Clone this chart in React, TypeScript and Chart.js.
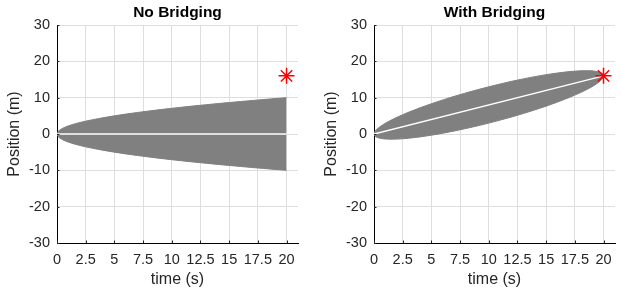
import React, { useEffect, useRef } from "react";
import { Chart, registerables } from "chart.js";

Chart.register(...registerables);

// ---- data ----
const xTickValues = [0, 2.5, 5, 7.5, 10, 12.5, 15, 17.5, 20];
const yTickValues = [-30, -20, -10, 0, 10, 20, 30];

// No Bridging: envelope
const tNo = [0, 0.1, 0.25, 0.5, 0.75, 1, 1.5, 2, 2.5, 3, 4, 5, 6, 7, 8, 9, 10, 11, 12, 13, 14, 15, 16, 17, 18, 19, 20];
const upperNo = [0, 0.71, 1.12, 1.58, 1.94, 2.24, 2.74, 3.16, 3.54, 3.87, 4.47, 5.0, 5.48, 5.92, 6.32, 6.71, 7.07, 7.42, 7.75, 8.06, 8.37, 8.66, 8.94, 9.22, 9.49, 9.75, 10.0];
const lowerNo = [0, -0.71, -1.12, -1.58, -1.94, -2.24, -2.74, -3.16, -3.54, -3.87, -4.47, -5.0, -5.48, -5.92, -6.32, -6.71, -7.07, -7.42, -7.75, -8.06, -8.37, -8.66, -8.94, -9.22, -9.49, -9.75, -10.0];
const meanNoT = [0, 20];
const meanNo = [0, 0];

// With Bridging: envelope
const tBr = [0, 0.1, 0.25, 0.5, 0.75, 1, 1.5, 2, 2.5, 3, 4, 5, 6, 7, 8, 9, 10, 11, 12, 13, 14, 15, 16, 17, 18, 18.5, 19, 19.25, 19.5, 19.75, 19.9, 20];
const upperBr = [0, 0.79, 1.31, 1.96, 2.5, 2.98, 3.83, 4.6, 5.31, 5.97, 7.2, 8.33, 9.38, 10.37, 11.3, 12.17, 13.0, 13.77, 14.5, 15.17, 15.78, 16.33, 16.8, 17.17, 17.4, 17.43, 17.38, 17.3, 17.16, 16.91, 16.63, 16.0];
const lowerBr = [0, -0.63, -0.91, -1.16, -1.3, -1.38, -1.43, -1.4, -1.31, -1.17, -0.8, -0.33, 0.22, 0.83, 1.5, 2.23, 3.0, 3.83, 4.7, 5.63, 6.62, 7.67, 8.8, 10.03, 11.4, 12.17, 13.02, 13.5, 14.04, 14.69, 15.21, 16.0];
const meanBrT = [0, 20];
const meanBr = [0, 16];

// Target marker
const targetT = [20];
const targetY = [16];

const titles = ["No Bridging", "With Bridging"];

const FONT = "'Liberation Sans', Arial, Helvetica, sans-serif";

const pts = (xs: number[], ys: number[]) => xs.map((x, i) => ({ x, y: ys[i] }));

// small inside tick marks on the left and bottom axes (MATLAB style)
const insideTicks = {
  id: "insideTicks",
  afterDatasetsDraw(chart: any) {
    const { ctx, chartArea, scales } = chart;
    const len = 2.5;
    ctx.save();
    ctx.strokeStyle = "#262626";
    ctx.lineWidth = 1;
    ctx.beginPath();
    for (const v of xTickValues) {
      const px = Math.round(scales.x.getPixelForValue(v)) + 0.5;
      ctx.moveTo(px, chartArea.bottom);
      ctx.lineTo(px, chartArea.bottom - len);
    }
    for (const v of yTickValues) {
      const py = Math.round(scales.y.getPixelForValue(v)) + 0.5;
      ctx.moveTo(chartArea.left, py);
      ctx.lineTo(chartArea.left + len, py);
    }
    ctx.stroke();
    ctx.restore();
  },
};

function zeroPad(s: any) {
  s.paddingLeft = 0;
  s.paddingRight = 0;
  s.paddingTop = 0;
  s.paddingBottom = 0;
}

function makeConfig(title: string, t: number[], up: number[], lo: number[], mt: number[], m: number[]): any {
  return {
    type: "line",
    data: {
      datasets: [
        {
          data: pts(targetT, targetY),
          showLine: false,
          pointStyle: "star",
          pointRadius: 8,
          pointBorderColor: "#ff0000",
          pointBackgroundColor: "#ff0000",
          pointBorderWidth: 1.5,
          clip: false,
          order: 0,
        },
        {
          data: pts(mt, m),
          borderColor: "#ffffff",
          borderWidth: 1.5,
          pointRadius: 0,
          fill: false,
          order: 1,
        },
        {
          data: pts(t, up),
          borderColor: "#808080",
          borderWidth: 1,
          backgroundColor: "#808080",
          pointRadius: 0,
          fill: 3,
          tension: 0,
          order: 2,
        },
        {
          data: pts(t, lo),
          borderColor: "#808080",
          borderWidth: 1,
          backgroundColor: "#808080",
          pointRadius: 0,
          fill: false,
          tension: 0,
          order: 3,
        },
      ],
    },
    plugins: [insideTicks],
    options: {
      animation: false,
      responsive: false,
      maintainAspectRatio: false,
      layout: { autoPadding: false, padding: { left: 0, right: 6, top: 0, bottom: 0 } },
      plugins: {
        legend: { display: false },
        tooltip: { enabled: false },
        title: {
          display: true,
          text: title,
          fullSize: false,
          color: "#000000",
          font: { family: FONT, size: 15.5, weight: "bold" },
          padding: { top: 3, bottom: 3.4 },
        },
      },
      scales: {
        x: {
          type: "linear",
          min: 0,
          max: 21,
          afterFit: (s: any) => {
            s.height = 47;
            zeroPad(s);
          },
          afterBuildTicks: (s: any) => {
            s.ticks = xTickValues.map((v) => ({ value: v }));
          },
          ticks: {
            color: "#262626",
            font: { family: FONT, size: 14.5 },
            padding: 8,
            maxRotation: 0,
            autoSkip: false,
            callback: (v: number) => String(v),
          },
          grid: { color: "#dedede", drawTicks: false, lineWidth: 1 },
          border: { display: true, color: "#000000", width: 1 },
          title: {
            display: true,
            text: "time (s)",
            color: "#262626",
            font: { family: FONT, size: 16 },
            padding: { top: 0, bottom: 1 },
          },
        },
        y: {
          type: "linear",
          min: -30,
          max: 30,
          afterFit: (s: any) => {
            s.width = 57;
            zeroPad(s);
          },
          afterBuildTicks: (s: any) => {
            s.ticks = yTickValues.map((v) => ({ value: v }));
          },
          ticks: {
            color: "#262626",
            font: { family: FONT, size: 14.5 },
            padding: 7,
            callback: (v: number) => String(v),
          },
          grid: { color: "#dedede", drawTicks: false, lineWidth: 1 },
          border: { display: true, color: "#000000", width: 1 },
          title: {
            display: true,
            text: "Position (m)",
            color: "#262626",
            font: { family: FONT, size: 16 },
            padding: { top: 5, bottom: 0 },
          },
        },
      },
    },
  };
}

function Panel(props: { left: number; config: any }) {
  const ref = useRef<HTMLCanvasElement | null>(null);
  useEffect(() => {
    if (!ref.current) return;
    const chart = new Chart(ref.current, props.config);
    return () => chart.destroy();
  }, []);
  return (
    <canvas
      ref={ref}
      width={304}
      height={290}
      style={{ position: "absolute", left: props.left, top: 0, width: 304, height: 290 }}
    />
  );
}

export default function App() {
  useEffect(() => {
    document.body.style.margin = "0";
    document.body.style.background = "#ffffff";
  }, []);
  const cfgA = makeConfig(titles[0], tNo, upperNo, lowerNo, meanNoT, meanNo);
  const cfgB = makeConfig(titles[1], tBr, upperBr, lowerBr, meanBrT, meanBr);
  return (
    <div style={{ position: "fixed", left: 0, top: 0, width: 621, height: 290, background: "#ffffff" }}>
      <Panel left={0} config={cfgA} />
      <Panel left={317} config={cfgB} />
    </div>
  );
}
